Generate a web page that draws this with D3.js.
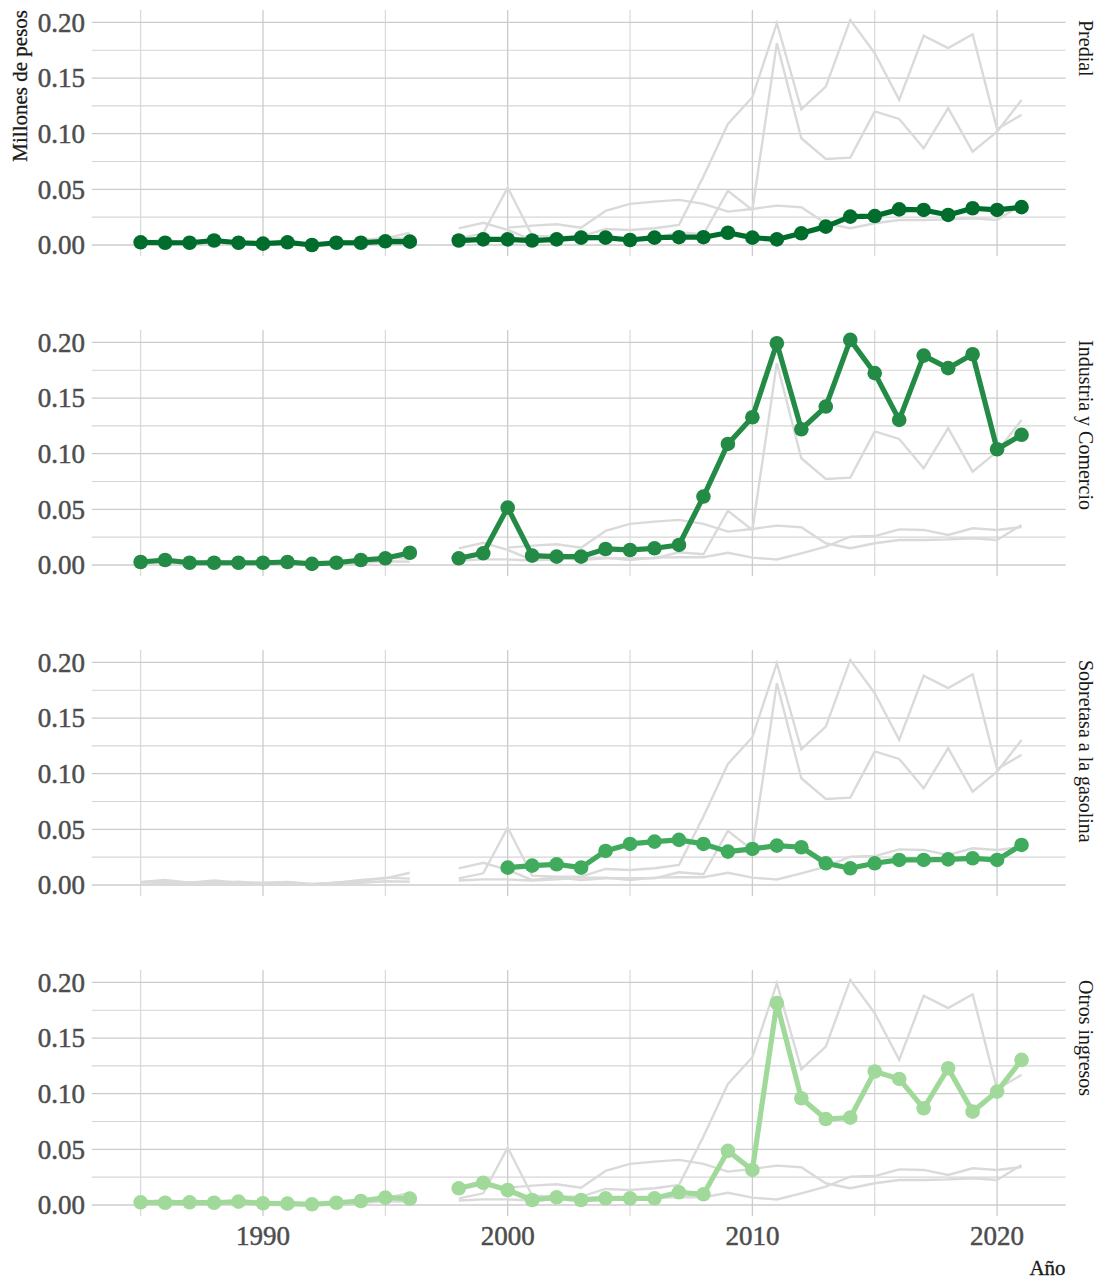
<!DOCTYPE html>
<html>
<head>
<meta charset="utf-8">
<script src="https://cdn.jsdelivr.net/npm/d3@7"></script>
<style>
  body { margin: 0; background: #fff; }
  text { font-family: "Liberation Serif", "Times New Roman", serif; }
</style>
</head>
<body>
<div id="chart"></div>
<script>
// datos
var years = [1985,1986,1987,1988,1989,1990,1991,1992,1993,1994,1995,1996,1997,
             1998,1999,2000,2001,2002,2003,2004,2005,2006,2007,2008,2009,
             2010,2011,2012,2013,2014,2015,2016,2017,2018,2019,2020,2021];

var predial = [0.0024,0.002,0.002,0.004,0.002,0.0012,0.0024,0.0,0.002,0.002,0.0033,0.003,null,
               0.004,0.005,0.005,0.004,0.005,0.0066,0.0066,0.0045,0.0066,0.007,0.007,0.011,
               0.0066,0.005,0.0105,0.0165,0.0255,0.026,0.032,0.0315,0.027,0.033,0.0315,0.034];

var industria = [0.0027,0.0045,0.002,0.002,0.002,0.002,0.0027,0.001,0.002,0.0045,0.006,0.011,null,
                 0.006,0.0105,0.0516,0.0084,0.0075,0.0075,0.0144,0.0135,0.015,0.018,0.0615,0.1088,
                 0.1328,0.1993,0.122,0.1424,0.2023,0.1724,0.1304,0.1882,0.1769,0.1894,0.104,0.117];

var sobretasa = [null,null,null,null,null,null,null,null,null,null,null,null,null,
                 null,null,0.0156,0.0174,0.0186,0.0156,0.0306,0.0369,0.039,0.0405,0.0369,0.030,
                 0.0324,0.0354,0.0339,0.0195,0.015,0.0195,0.0225,0.0225,0.023,0.024,0.0225,0.036];

var otros = [0.0024,0.002,0.0024,0.002,0.003,0.0015,0.0012,0.0006,0.002,0.0036,0.0066,0.0057,null,
             0.015,0.020,0.0135,0.0045,0.0069,0.0045,0.006,0.006,0.006,0.0114,0.0096,0.0486,
             0.0315,0.1814,0.0959,0.0773,0.0785,0.12,0.1133,0.0869,0.1229,0.0839,0.1019,0.1304];

var panelNames = ["Predial", "Industria y Comercio", "Sobretasa a la gasolina", "Otros ingresos"];
var panelColors = ["#006d2c", "#238b45", "#41ab5d", "#a1d99b"];
var yTicks = [0, 0.05, 0.10, 0.15, 0.20];
var yMinor = [0.025, 0.075, 0.125, 0.175];
var xTicks = [1990, 2000, 2010, 2020];
var xMinor = [1985, 1995, 2005, 2015];

var series = [predial, industria, sobretasa, otros];

var W = 1102, H = 1280;
var left = 91.7, right = 1065.6;
var panelTop = 10, panelH = 246, panelStep = 320;

var svg = d3.select("#chart").append("svg")
    .attr("width", W).attr("height", H);

var x = d3.scaleLinear().domain([1983, 2022.8]).range([left, right]);

series.forEach(function(vals, p) {
    var top = panelTop + p * panelStep;
    var y = d3.scaleLinear().domain([-0.0099, 0.2112]).range([top + panelH, top]);
    var g = svg.append("g");

    // rejilla
    g.selectAll(".ymin").data(yMinor).enter().append("line")
        .attr("x1", left).attr("x2", right)
        .attr("y1", function(d){ return y(d); }).attr("y2", function(d){ return y(d); })
        .attr("stroke", "#d6d6d6").attr("stroke-width", 1.1);
    g.selectAll(".xmin").data(xMinor).enter().append("line")
        .attr("y1", top).attr("y2", top + panelH)
        .attr("x1", function(d){ return x(d); }).attr("x2", function(d){ return x(d); })
        .attr("stroke", "#d6d6d6").attr("stroke-width", 1.1);
    g.selectAll(".ymaj").data(yTicks).enter().append("line")
        .attr("x1", left).attr("x2", right)
        .attr("y1", function(d){ return y(d); }).attr("y2", function(d){ return y(d); })
        .attr("stroke", "#cccccc").attr("stroke-width", 1.3);
    g.selectAll(".xmaj").data(xTicks).enter().append("line")
        .attr("y1", top).attr("y2", top + panelH)
        .attr("x1", function(d){ return x(d); }).attr("x2", function(d){ return x(d); })
        .attr("stroke", "#cccccc").attr("stroke-width", 1.3);

    // etiquetas eje y
    g.selectAll(".ylab").data(yTicks).enter().append("text")
        .attr("x", 85).attr("y", function(d){ return y(d); })
        .attr("dy", "0.34em")
        .attr("text-anchor", "end")
        .attr("font-size", 27)
        .attr("fill", "#4d4d4d")
        .attr("stroke", "#4d4d4d").attr("stroke-width", 0.5)
        .text(function(d){ return d3.format(".2f")(d); });

    var line = d3.line()
        .defined(function(d){ return d.v != null; })
        .x(function(d){ return x(d.year); })
        .y(function(d){ return y(d.v); });

    // todas las series en gris
    series.forEach(function(s) {
        var pts = years.map(function(yr, i){ return {year: yr, v: s[i]}; });
        g.append("path").datum(pts)
            .attr("d", line)
            .attr("fill", "none")
            .attr("stroke", "#dadada")
            .attr("stroke-width", 2.4);
    });

    var mine = years.map(function(yr, i){ return {year: yr, v: vals[i]}; });
    g.append("path").datum(mine)
        .attr("d", line)
        .attr("fill", "none")
        .attr("stroke", panelColors[p])
        .attr("stroke-width", 5.2)
        .attr("stroke-linejoin", "round");
    g.selectAll(".pt").data(mine.filter(function(d){ return d.v != null; }))
        .enter().append("circle")
        .attr("cx", function(d){ return x(d.year); })
        .attr("cy", function(d){ return y(d.v); })
        .attr("r", 7.3)
        .attr("fill", panelColors[p]);

    // titulo del panel
    g.append("text")
        .attr("transform", "translate(1079," + (top + 10) + ") rotate(90)")
        .attr("font-size", 20)
        .attr("fill", "#1a1a1a")
        .attr("text-anchor", "start")
        .text(panelNames[p]);

    if (p == series.length - 1) {
        g.selectAll(".xlab").data(xTicks).enter().append("text")
            .attr("x", function(d){ return x(d); })
            .attr("y", top + panelH + 29)
            .attr("text-anchor", "middle")
            .attr("font-size", 27)
            .attr("fill", "#4d4d4d")
            .attr("stroke", "#4d4d4d").attr("stroke-width", 0.5)
            .text(function(d){ return d; });
    }
});

svg.append("text")
    .attr("transform", "translate(27,10) rotate(-90)")
    .attr("text-anchor", "end")
    .attr("font-size", 21)
    .attr("fill", "#1a1a1a")
    .attr("stroke", "#1a1a1a").attr("stroke-width", 0.3)
    .text("Millones de pesos");

svg.append("text")
    .attr("x", right).attr("y", 1275)
    .attr("text-anchor", "end")
    .attr("font-size", 21)
    .attr("fill", "#1a1a1a")
    .attr("stroke", "#1a1a1a").attr("stroke-width", 0.3)
    .text("Año");
</script>
</body>
</html>
